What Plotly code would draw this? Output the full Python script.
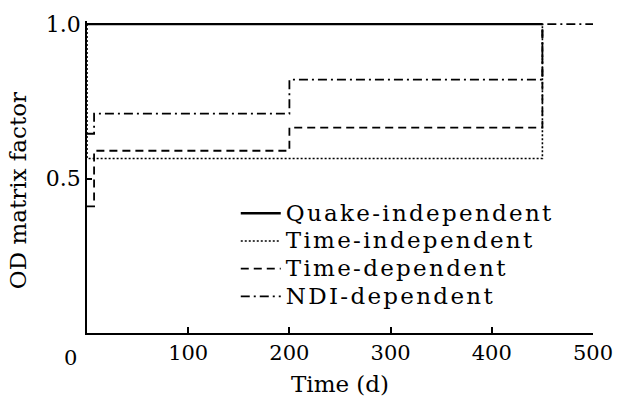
import plotly.graph_objects as go

# data
t_quake = [0, 450]
v_quake = [1.0, 1.0]
t_time_ind = [0, 0, 450]
v_time_ind = [1.0, 0.565, 1.0]
t_time_dep = [0, 7, 200, 450]
v_time_dep = [0.41, 0.59, 0.665, 1.0]
t_ndi = [0, 7, 200, 450, 500]
v_ndi = [0.645, 0.71, 0.82, 1.0, 1.0]

x_ticks = [100, 200, 300, 400, 500]
y_ticks = [0.5, 1.0]

FONT = "DejaVu Serif"


def lab(s):
    return f'<span style="font-size:23px;letter-spacing:2.3px">{s}</span>'


fig = go.Figure()
fig.add_trace(go.Scatter(x=t_quake, y=v_quake, mode="lines", name=lab("Quake-independent"),
                         line=dict(color="black", width=2.4, dash="solid"), line_shape="hv"))
fig.add_trace(go.Scatter(x=t_time_ind, y=v_time_ind, mode="lines", name=lab("Time-independent"),
                         line=dict(color="black", width=1.6, dash="2px,2px"), line_shape="hv"))
fig.add_trace(go.Scatter(x=t_time_dep, y=v_time_dep, mode="lines", name=lab("Time-dependent"),
                         line=dict(color="black", width=1.8, dash="8px,5px"), line_shape="hv"))
fig.add_trace(go.Scatter(x=t_ndi, y=v_ndi, mode="lines", name=lab("NDI-dependent"),
                         line=dict(color="black", width=1.8, dash="9px,4px,2px,4px"), line_shape="hv"))

fig.update_layout(
    width=618, height=401,
    margin=dict(l=87, r=25, t=21, b=68),
    paper_bgcolor="white", plot_bgcolor="white",
    font=dict(family=FONT, color="black", size=22),
    showlegend=True,
    legend=dict(x=0.294, y=0.444, xanchor="left", yanchor="top",
                bgcolor="rgba(0,0,0,0)", font=dict(size=19, family=FONT),
                tracegroupgap=0, itemwidth=40),
    xaxis=dict(range=[0, 500], tickvals=x_ticks, ticktext=[str(v) for v in x_ticks],
               ticks="inside", ticklen=6, tickwidth=1.5, tickcolor="black",
               showline=True, linecolor="black", linewidth=2, showgrid=False, zeroline=False,
               automargin=False, ticklabeloverflow="allow",
               title=dict(text="Time (d)", font=dict(size=23), standoff=12),
               tickfont=dict(size=21)),
    yaxis=dict(range=[0, 1.01], tickvals=y_ticks, ticktext=["0.5", "1.0"],
               ticks="inside", ticklen=5, tickwidth=1.5, tickcolor="black",
               showline=True, linecolor="black", linewidth=1.5, showgrid=False, zeroline=False,
               automargin=False,
               tickfont=dict(size=22)),
)

fig.add_annotation(x=0, y=0, xref="x", yref="y", text="0", showarrow=False,
                   xshift=-17, yshift=-25, font=dict(size=21, family=FONT))
fig.add_annotation(x=-0.136, y=0.455, xref="paper", yref="paper", text="OD matrix factor",
                   textangle=-90, showarrow=False, xanchor="center", yanchor="middle",
                   font=dict(size=23, family=FONT))

fig.write_html("out.html")
